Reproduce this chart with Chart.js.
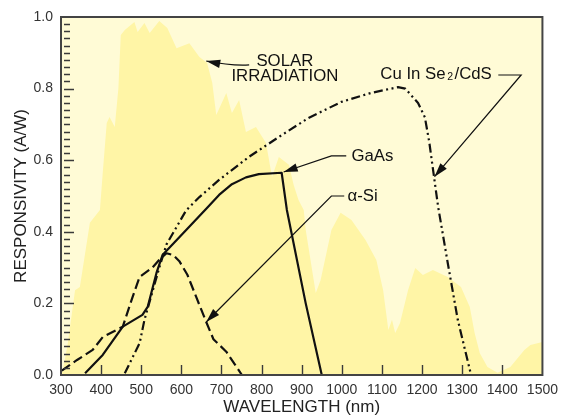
<!DOCTYPE html>
<html>
<head>
<meta charset="utf-8">
<script src="https://cdn.jsdelivr.net/npm/chart.js@4.4.1/dist/chart.umd.min.js"></script>
<style>
  html, body { margin: 0; padding: 0; background: #fff; }
  canvas { display: block; }
</style>
</head>
<body>
<canvas id="chart" width="565" height="419"></canvas>
<script>
/* ── DATA ─────────────────────────────────────────────
   (nm, A/W).
──────────────────────────────────────────────────────── */
const xTickValues = [300, 400, 500, 600, 700, 800, 900, 1000, 1100, 1200, 1300, 1400, 1500];
const yTickValues = [0.0, 0.2, 0.4, 0.6, 0.8, 1.0];

// Solar irradiation envelope (relative, drawn as filled area)
const solarNm  = [300, 305, 317, 335, 347, 372, 397, 404, 414, 421, 434, 443, 449, 459, 483, 491, 508, 521, 545, 565,
                  588, 620, 645, 664, 677, 687, 712, 726, 744, 761, 786, 811, 826, 843, 868, 880, 892, 905, 910, 935,
                  947, 974, 997, 1024, 1059, 1086, 1103, 1116, 1125, 1133, 1145, 1165, 1183, 1202, 1227, 1264, 1297, 1319, 1331, 1344,
                  1363, 1388, 1420, 1455, 1470, 1500];
const solarVal = [0, 0.014, 0.089, 0.237, 0.246, 0.425, 0.461, 0.564, 0.704, 0.721, 0.693, 0.80, 0.95, 0.964, 0.986, 0.958, 0.983, 0.955, 0.989, 0.969,
                  0.913, 0.927, 0.888, 0.872, 0.816, 0.726, 0.788, 0.732, 0.768, 0.679, 0.693, 0.648, 0.553, 0.609, 0.587, 0.531, 0.489, 0.461, 0.405, 0.229,
                  0.265, 0.405, 0.453, 0.433, 0.377, 0.321, 0.237, 0.126, 0.154, 0.117, 0.145, 0.237, 0.299, 0.279, 0.293, 0.274, 0.246, 0.19, 0.117, 0.061,
                  0.022, 0.006, 0.022, 0.07, 0.084, 0.092];

const gaasNm  = [360, 404, 454, 503, 516, 538, 553, 612, 665, 694, 726, 761, 793, 850, 863, 910, 950];
const gaasVal = [0.005, 0.056, 0.135, 0.168, 0.19, 0.285, 0.335, 0.405, 0.468, 0.503, 0.533, 0.552, 0.561, 0.565, 0.461, 0.20, 0];

const asiNm  = [302, 340, 379, 404, 454, 476, 496, 528, 545, 563, 580, 595, 615, 637, 662, 680, 712, 751];
const asiVal = [0.012, 0.042, 0.07, 0.106, 0.135, 0.21, 0.274, 0.30, 0.322, 0.34, 0.335, 0.318, 0.28, 0.218, 0.148, 0.10, 0.065, 0];

const cisNm  = [459, 496, 508, 545, 563, 612, 645, 694, 768, 850, 917, 999, 1073, 1140, 1158, 1190, 1207, 1218, 1240, 1264, 1289, 1320];
const cisVal = [0.005, 0.089, 0.154, 0.30, 0.365, 0.46, 0.497, 0.545, 0.609, 0.67, 0.718, 0.763, 0.788, 0.804, 0.80, 0.76, 0.72, 0.65, 0.47, 0.313, 0.154, 0.01];

/* ── STYLE ─────────────────────────────────────────── */
const FONT   = '"Liberation Sans", Arial, Helvetica, sans-serif';
const PAPER  = '#fffbd6';
const SUN    = '#fff5a6';
const INK    = '#111';
const NOTE_PX = 16.8;

const pts = (xs, ys) => xs.map((x, i) => ({ x, y: ys[i] }));

// Labels + leader arrows, anchored in data units
const notes = [
    { lines: ['SOLAR', 'IRRADIATION'], at: [858, 0.876], gap: 0.041, align: 'center' },
    { text: 'GaAs', at: [1024, 0.612] },
    { text: 'α-Si', at: [1014, 0.500] },
];
const leaders = [
    { path: [[769, 0.866], [724, 0.863], [662, 0.877]], curve: true },
    { path: [[1011, 0.612], [974, 0.612], [855, 0.567]] },
    { path: [[1006, 0.500], [974, 0.500], [662, 0.148]] },
    { path: [[1390, 0.838], [1447, 0.838], [1231, 0.554]] },
];

function arrowHead(ctx, fx, fy, tx, ty) {
    const ang = Math.atan2(ty - fy, tx - fx);
    const L = 14, W = 4.2;
    ctx.beginPath();
    ctx.moveTo(tx, ty);
    ctx.lineTo(tx - L * Math.cos(ang) + W * Math.sin(ang), ty - L * Math.sin(ang) - W * Math.cos(ang));
    ctx.lineTo(tx - L * Math.cos(ang) - W * Math.sin(ang), ty - L * Math.sin(ang) + W * Math.cos(ang));
    ctx.closePath();
    ctx.fill();
}

const overlay = {
    id: 'overlay',
    beforeDatasetsDraw(chart) {
        const { ctx, chartArea: a } = chart;
        ctx.save();
        ctx.fillStyle = PAPER;
        ctx.fillRect(a.left, a.top, a.right - a.left, a.bottom - a.top);
        ctx.restore();
    },
    afterDatasetsDraw(chart) {
        const { ctx, chartArea: a, scales: { x, y } } = chart;
        ctx.save();

        // inward ticks: minor every 0.02 on y, every 100 nm on x
        ctx.strokeStyle = '#3a3a3a';
        ctx.lineWidth = 1.4;
        ctx.beginPath();
        for (let i = 1; i < 50; i++) {
            const py = Math.round(y.getPixelForValue(i * 0.02)) + 0.5;
            ctx.moveTo(a.left + 3, py);
            ctx.lineTo(a.left + (i % 10 === 0 ? 13 : 9), py);
        }
        xTickValues.slice(1, -1).forEach(v => {
            const px = Math.round(x.getPixelForValue(v)) + 0.5;
            ctx.moveTo(px, a.bottom);
            ctx.lineTo(px, a.bottom - 10);
        });
        ctx.stroke();

        // frame
        ctx.strokeStyle = '#444';
        ctx.lineWidth = 2;
        ctx.strokeRect(a.left, a.top, a.right - a.left, a.bottom - a.top);

        // leaders
        ctx.strokeStyle = INK;
        ctx.fillStyle = INK;
        ctx.lineWidth = 1.2;
        leaders.forEach(l => {
            const p = l.path.map(([nx, ny]) => [x.getPixelForValue(nx), y.getPixelForValue(ny)]);
            ctx.beginPath();
            ctx.moveTo(p[0][0], p[0][1]);
            if (l.curve) ctx.quadraticCurveTo(p[1][0], p[1][1], p[2][0], p[2][1]);
            else p.slice(1).forEach(q => ctx.lineTo(q[0], q[1]));
            ctx.stroke();
            const n = p.length;
            arrowHead(ctx, p[n - 2][0], p[n - 2][1], p[n - 1][0], p[n - 1][1]);
        });

        // labels
        ctx.font = NOTE_PX + 'px ' + FONT;
        ctx.textBaseline = 'middle';
        notes.forEach(nt => {
            const px = x.getPixelForValue(nt.at[0]);
            ctx.textAlign = nt.align || 'left';
            if (nt.lines) {
                nt.lines.forEach((s, i) => ctx.fillText(s, px, y.getPixelForValue(nt.at[1] - i * nt.gap)));
            } else {
                ctx.fillText(nt.text, px, y.getPixelForValue(nt.at[1]));
            }
        });

        // Cu In Se2/CdS with subscript
        ctx.textAlign = 'left';
        let cx = x.getPixelForValue(1096);
        const cy = y.getPixelForValue(0.841);
        ctx.font = NOTE_PX + 'px ' + FONT;
        ctx.fillText('Cu In Se', cx, cy);
        cx += ctx.measureText('Cu In Se').width + 1.5;
        ctx.font = '10.5px ' + FONT;
        ctx.fillText('2', cx, cy + 3);
        cx += ctx.measureText('2').width + 1.5;
        ctx.font = NOTE_PX + 'px ' + FONT;
        ctx.fillText('/CdS', cx, cy);

        ctx.restore();
    }
};

const ctx = document.getElementById('chart').getContext('2d');

new Chart(ctx, {
    type: 'line',
    data: {
        datasets: [
            {
                label: 'Solar irradiation',
                data: pts(solarNm, solarVal),
                backgroundColor: SUN,
                borderWidth: 0,
                fill: 'origin',
                order: 10,
            },
            {
                label: 'CuInSe2/CdS',
                data: pts(cisNm, cisVal),
                borderColor: INK,
                borderWidth: 2.2,
                borderDash: [9, 3.5, 2, 3.5, 2, 3.5],
            },
            {
                label: 'α-Si',
                data: pts(asiNm, asiVal),
                borderColor: INK,
                borderWidth: 2.2,
                borderDash: [10, 4.5],
            },
            {
                label: 'GaAs',
                data: pts(gaasNm, gaasVal),
                borderColor: INK,
                borderWidth: 2.2,
            },
        ]
    },
    options: {
        responsive: false,
        animation: false,
        events: [],
        layout: { padding: { left: 0, top: 17, right: 20, bottom: 0 } },
        elements: {
            point: { radius: 0 },
            line: { tension: 0, fill: false, borderCapStyle: 'butt', borderJoinStyle: 'round' },
        },
        plugins: {
            legend: { display: false },
            tooltip: { enabled: false },
        },
        scales: {
            x: {
                type: 'linear',
                min: 300,
                max: 1500,
                afterFit: s => { s.height = 44; },
                afterBuildTicks: s => { s.ticks = xTickValues.map(v => ({ value: v })); },
                grid: { display: false, drawTicks: false },
                border: { display: false },
                ticks: {
                    color: '#333',
                    padding: 7,
                    maxRotation: 0,
                    autoSkip: false,
                    font: { family: FONT, size: 14 },
                    callback: v => String(v),
                },
                title: {
                    display: true,
                    text: 'WAVELENGTH (nm)',
                    color: '#222',
                    padding: { top: 0, bottom: 1 },
                    font: { family: FONT, size: 17 },
                },
            },
            y: {
                min: 0,
                max: 1,
                afterFit: s => { s.width = 61; },
                afterBuildTicks: s => { s.ticks = yTickValues.map(v => ({ value: v })); },
                grid: { display: false, drawTicks: false },
                border: { display: false },
                ticks: {
                    color: '#333',
                    padding: 8,
                    autoSkip: false,
                    font: { family: FONT, size: 14 },
                    callback: v => v.toFixed(1),
                },
                title: {
                    display: true,
                    text: 'RESPONSIVITY (A/W)',
                    color: '#222',
                    padding: { top: 11, bottom: 0 },
                    font: { family: FONT, size: 17 },
                },
            },
        },
    },
    plugins: [overlay],
});
</script>
</body>
</html>
